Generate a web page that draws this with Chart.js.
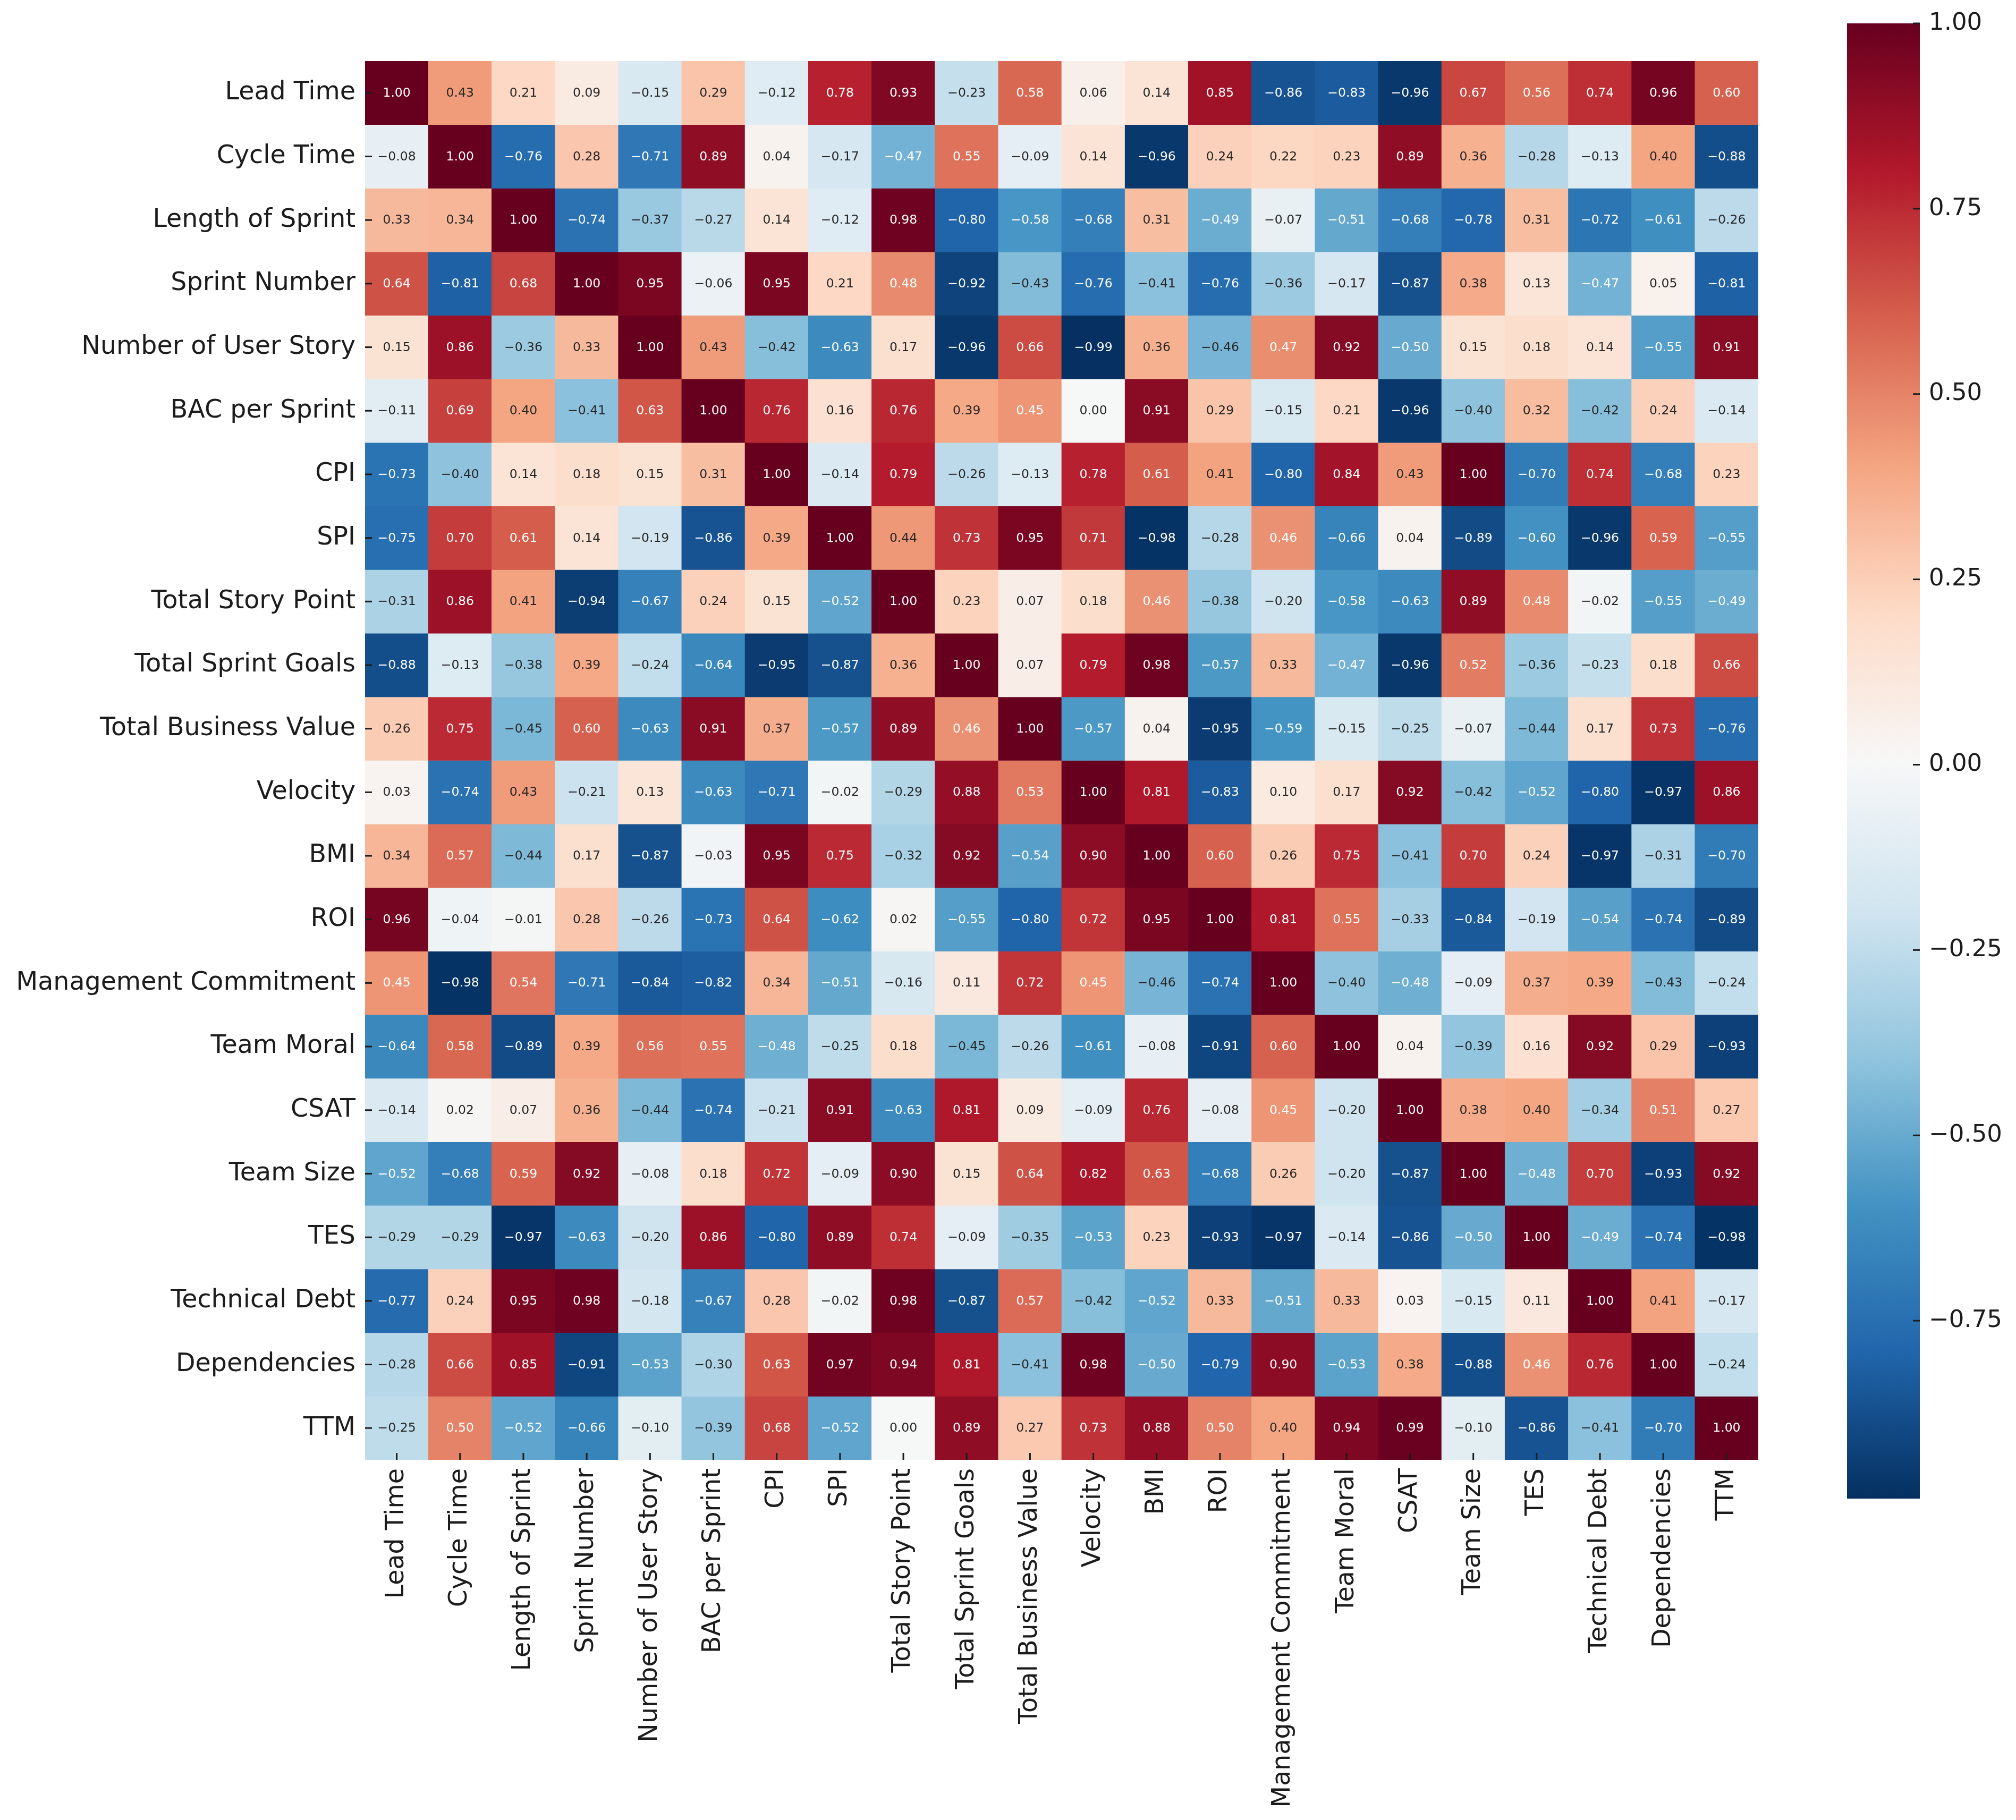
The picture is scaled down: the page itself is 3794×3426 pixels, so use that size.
<!DOCTYPE html>
<html>
<head>
<meta charset="utf-8">
<script src="https://cdn.jsdelivr.net/npm/chart.js@4.4.1/dist/chart.umd.min.js"></script>
<style>
  html, body { margin: 0; padding: 0; background: #ffffff; }
  #wrap { position: relative; width: 3794px; height: 3426px; background: #ffffff; }
  #mainBox { position: absolute; left: 0; top: 0; width: 3794px; height: 3426px; }
  #cbarBox { position: absolute; left: 3476px; top: 0; width: 318px; height: 3426px; }
</style>
</head>
<body>
<div id="wrap">
  <div id="mainBox"><canvas id="main"></canvas></div>
  <div id="cbarBox"><canvas id="cbar"></canvas></div>
</div>
<script>
// ---------- data ----------
const labels = ["Lead Time", "Cycle Time", "Length of Sprint", "Sprint Number", "Number of User Story",
  "BAC per Sprint", "CPI", "SPI", "Total Story Point", "Total Sprint Goals", "Total Business Value",
  "Velocity", "BMI", "ROI", "Management Commitment", "Team Moral", "CSAT", "Team Size", "TES",
  "Technical Debt", "Dependencies", "TTM"];

const leadTime            = [1.00, 0.43, 0.21, 0.09, -0.15, 0.29, -0.12, 0.78, 0.93, -0.23, 0.58, 0.06, 0.14, 0.85, -0.86, -0.83, -0.96, 0.67, 0.56, 0.74, 0.96, 0.60];
const cycleTime           = [-0.08, 1.00, -0.76, 0.28, -0.71, 0.89, 0.04, -0.17, -0.47, 0.55, -0.09, 0.14, -0.96, 0.24, 0.22, 0.23, 0.89, 0.36, -0.28, -0.13, 0.40, -0.88];
const lengthOfSprint      = [0.33, 0.34, 1.00, -0.74, -0.37, -0.27, 0.14, -0.12, 0.98, -0.80, -0.58, -0.68, 0.31, -0.49, -0.07, -0.51, -0.68, -0.78, 0.31, -0.72, -0.61, -0.26];
const sprintNumber        = [0.64, -0.81, 0.68, 1.00, 0.95, -0.06, 0.95, 0.21, 0.48, -0.92, -0.43, -0.76, -0.41, -0.76, -0.36, -0.17, -0.87, 0.38, 0.13, -0.47, 0.05, -0.81];
const numberOfUserStory   = [0.15, 0.86, -0.36, 0.33, 1.00, 0.43, -0.42, -0.63, 0.17, -0.96, 0.66, -0.99, 0.36, -0.46, 0.47, 0.92, -0.50, 0.15, 0.18, 0.14, -0.55, 0.91];
const bacPerSprint        = [-0.11, 0.69, 0.40, -0.41, 0.63, 1.00, 0.76, 0.16, 0.76, 0.39, 0.45, 0.00, 0.91, 0.29, -0.15, 0.21, -0.96, -0.40, 0.32, -0.42, 0.24, -0.14];
const cpi                 = [-0.73, -0.40, 0.14, 0.18, 0.15, 0.31, 1.00, -0.14, 0.79, -0.26, -0.13, 0.78, 0.61, 0.41, -0.80, 0.84, 0.43, 1.00, -0.70, 0.74, -0.68, 0.23];
const spi                 = [-0.75, 0.70, 0.61, 0.14, -0.19, -0.86, 0.39, 1.00, 0.44, 0.73, 0.95, 0.71, -0.98, -0.28, 0.46, -0.66, 0.04, -0.89, -0.60, -0.96, 0.59, -0.55];
const totalStoryPoint     = [-0.31, 0.86, 0.41, -0.94, -0.67, 0.24, 0.15, -0.52, 1.00, 0.23, 0.07, 0.18, 0.46, -0.38, -0.20, -0.58, -0.63, 0.89, 0.48, -0.02, -0.55, -0.49];
const totalSprintGoals    = [-0.88, -0.13, -0.38, 0.39, -0.24, -0.64, -0.95, -0.87, 0.36, 1.00, 0.07, 0.79, 0.98, -0.57, 0.33, -0.47, -0.96, 0.52, -0.36, -0.23, 0.18, 0.66];
const totalBusinessValue  = [0.26, 0.75, -0.45, 0.60, -0.63, 0.91, 0.37, -0.57, 0.89, 0.46, 1.00, -0.57, 0.04, -0.95, -0.59, -0.15, -0.25, -0.07, -0.44, 0.17, 0.73, -0.76];
const velocity            = [0.03, -0.74, 0.43, -0.21, 0.13, -0.63, -0.71, -0.02, -0.29, 0.88, 0.53, 1.00, 0.81, -0.83, 0.10, 0.17, 0.92, -0.42, -0.52, -0.80, -0.97, 0.86];
const bmi                 = [0.34, 0.57, -0.44, 0.17, -0.87, -0.03, 0.95, 0.75, -0.32, 0.92, -0.54, 0.90, 1.00, 0.60, 0.26, 0.75, -0.41, 0.70, 0.24, -0.97, -0.31, -0.70];
const roi                 = [0.96, -0.04, -0.01, 0.28, -0.26, -0.73, 0.64, -0.62, 0.02, -0.55, -0.80, 0.72, 0.95, 1.00, 0.81, 0.55, -0.33, -0.84, -0.19, -0.54, -0.74, -0.89];
const managementCommitment= [0.45, -0.98, 0.54, -0.71, -0.84, -0.82, 0.34, -0.51, -0.16, 0.11, 0.72, 0.45, -0.46, -0.74, 1.00, -0.40, -0.48, -0.09, 0.37, 0.39, -0.43, -0.24];
const teamMoral           = [-0.64, 0.58, -0.89, 0.39, 0.56, 0.55, -0.48, -0.25, 0.18, -0.45, -0.26, -0.61, -0.08, -0.91, 0.60, 1.00, 0.04, -0.39, 0.16, 0.92, 0.29, -0.93];
const csat                = [-0.14, 0.02, 0.07, 0.36, -0.44, -0.74, -0.21, 0.91, -0.63, 0.81, 0.09, -0.09, 0.76, -0.08, 0.45, -0.20, 1.00, 0.38, 0.40, -0.34, 0.51, 0.27];
const teamSize            = [-0.52, -0.68, 0.59, 0.92, -0.08, 0.18, 0.72, -0.09, 0.90, 0.15, 0.64, 0.82, 0.63, -0.68, 0.26, -0.20, -0.87, 1.00, -0.48, 0.70, -0.93, 0.92];
const tes                 = [-0.29, -0.29, -0.97, -0.63, -0.20, 0.86, -0.80, 0.89, 0.74, -0.09, -0.35, -0.53, 0.23, -0.93, -0.97, -0.14, -0.86, -0.50, 1.00, -0.49, -0.74, -0.98];
const technicalDebt       = [-0.77, 0.24, 0.95, 0.98, -0.18, -0.67, 0.28, -0.02, 0.98, -0.87, 0.57, -0.42, -0.52, 0.33, -0.51, 0.33, 0.03, -0.15, 0.11, 1.00, 0.41, -0.17];
const dependencies        = [-0.28, 0.66, 0.85, -0.91, -0.53, -0.30, 0.63, 0.97, 0.94, 0.81, -0.41, 0.98, -0.50, -0.79, 0.90, -0.53, 0.38, -0.88, 0.46, 0.76, 1.00, -0.24];
const ttm                 = [-0.25, 0.50, -0.52, -0.66, -0.10, -0.39, 0.68, -0.52, 0.00, 0.89, 0.27, 0.73, 0.88, 0.50, 0.40, 0.94, 0.99, -0.10, -0.86, -0.41, -0.70, 1.00];

const colorbarTicks = [1.00, 0.75, 0.50, 0.25, 0.00, -0.25, -0.50, -0.75];

// ---------- derived ----------
const corr = [leadTime, cycleTime, lengthOfSprint, sprintNumber, numberOfUserStory, bacPerSprint, cpi, spi,
  totalStoryPoint, totalSprintGoals, totalBusinessValue, velocity, bmi, roi, managementCommitment, teamMoral,
  csat, teamSize, tes, technicalDebt, dependencies, ttm];

const vmin = Math.min(...corr.flat());
const vmax = Math.max(...corr.flat());

// RdBu_r colormap anchor colours
const cmapStops = [
  [5, 48, 97], [33, 102, 172], [67, 147, 195], [146, 197, 222], [209, 229, 240],
  [247, 247, 247], [253, 219, 199], [244, 165, 130], [214, 96, 77], [178, 24, 43], [103, 0, 31]
];
function cmapRGB(v) {
  let t = (v - vmin) / (vmax - vmin);
  t = Math.max(0, Math.min(1, t));
  const p = t * 10;
  const i = Math.min(9, Math.floor(p));
  const f = p - i;
  const a = cmapStops[i], b = cmapStops[i + 1];
  return [a[0] + (b[0] - a[0]) * f, a[1] + (b[1] - a[1]) * f, a[2] + (b[2] - a[2]) * f];
}
function cmap(v) {
  const c = cmapRGB(v);
  return `rgb(${Math.round(c[0])},${Math.round(c[1])},${Math.round(c[2])})`;
}
function lin(c) { c /= 255; return c <= 0.03928 ? c / 12.92 : Math.pow((c + 0.055) / 1.055, 2.4); }
function textColor(v) {
  const c = cmapRGB(v);
  const lum = 0.2126 * lin(c[0]) + 0.7152 * lin(c[1]) + 0.0722 * lin(c[2]);
  return lum > 0.408 ? '#262626' : '#ffffff';
}
function fmt(v) { return (v < 0 ? '\u2212' : '') + Math.abs(v).toFixed(2); }

const FONT = '"DejaVu Sans", "Liberation Sans", sans-serif';
const LABEL_COLOR = '#1c1c1c';

const W = 3794, H = 3426;
const AREA_LEFT = 687, AREA_RIGHT = 3309, AREA_TOP = 115, AREA_BOTTOM = 2748;

const datasets = corr.map((rowVals, r) => ({
  label: labels[r],
  data: rowVals.map(() => [r, r + 1]),
  backgroundColor: rowVals.map(v => cmap(v)),
  borderWidth: 0,
  barPercentage: 1,
  categoryPercentage: 1,
  grouped: false
}));

const annotatePlugin = {
  id: 'annotate',
  afterDatasetsDraw(chart) {
    const ctx = chart.ctx;
    ctx.save();
    ctx.font = '23.5px ' + FONT;
    ctx.textAlign = 'center';
    ctx.textBaseline = 'middle';
    chart.data.datasets.forEach((ds, r) => {
      const meta = chart.getDatasetMeta(r);
      meta.data.forEach((bar, c) => {
        const p = bar.getProps(['x', 'y', 'base'], true);
        const v = corr[r][c];
        ctx.fillStyle = textColor(v);
        ctx.fillText(fmt(v), p.x, (p.y + p.base) / 2 + 1);
      });
    });
    // inward tick marks
    const xs = chart.scales.x, ys = chart.scales.y, a = chart.chartArea;
    ctx.strokeStyle = LABEL_COLOR;
    ctx.lineWidth = 3;
    labels.forEach((_, i) => {
      const px = xs.getPixelForValue(i);
      ctx.beginPath(); ctx.moveTo(px, a.bottom); ctx.lineTo(px, a.bottom - 13); ctx.stroke();
      const py = ys.getPixelForValue(i + 0.5);
      ctx.beginPath(); ctx.moveTo(a.left, py); ctx.lineTo(a.left + 13, py); ctx.stroke();
    });
    ctx.restore();
  }
};

new Chart(document.getElementById('main'), {
  type: 'bar',
  data: { labels: labels, datasets: datasets },
  options: {
    responsive: true,
    maintainAspectRatio: false,
    animation: false,
    events: [],
    layout: { padding: { top: AREA_TOP, right: W - AREA_RIGHT, left: 0, bottom: 0 } },
    plugins: { legend: { display: false }, tooltip: { enabled: false } },
    scales: {
      x: {
        type: 'category',
        offset: true,
        afterFit: s => { s.height = H - AREA_BOTTOM; },
        ticks: {
          autoSkip: false, minRotation: 90, maxRotation: 90, padding: 16,
          color: LABEL_COLOR, font: { family: FONT, size: 47.5 }
        },
        grid: { display: false, drawTicks: false },
        border: { display: false }
      },
      y: {
        type: 'linear',
        min: 0, max: labels.length, reverse: true,
        afterBuildTicks: s => { s.ticks = labels.map((_, i) => ({ value: i + 0.5 })); },
        afterFit: s => { s.width = AREA_LEFT; },
        ticks: {
          autoSkip: false, padding: 18,
          callback: (v, i) => labels[i],
          color: LABEL_COLOR, font: { family: FONT, size: 47.5 }
        },
        grid: { display: false, drawTicks: false },
        border: { display: false }
      }
    }
  },
  plugins: [annotatePlugin]
});

// ---------- colorbar ----------
const CB_TOP = 43, CB_BOTTOM = 2821, CB_WIDTH = 137, CB_CANVAS_W = 318;

const cbTickPlugin = {
  id: 'cbTicks',
  afterDatasetsDraw(chart) {
    const ctx = chart.ctx, ys = chart.scales.y, a = chart.chartArea;
    ctx.save();
    ctx.strokeStyle = LABEL_COLOR;
    ctx.lineWidth = 3;
    colorbarTicks.forEach(v => {
      const py = ys.getPixelForValue(v);
      ctx.beginPath(); ctx.moveTo(a.right - 13, py); ctx.lineTo(a.right, py); ctx.stroke();
    });
    ctx.restore();
  }
};

new Chart(document.getElementById('cbar'), {
  type: 'bar',
  data: {
    labels: [''],
    datasets: [{
      data: [[vmin, vmax]],
      backgroundColor: (c) => {
        const area = c.chart.chartArea;
        if (!area) return 'rgba(0,0,0,0)';
        const g = c.chart.ctx.createLinearGradient(0, area.bottom, 0, area.top);
        cmapStops.forEach((s, i) => g.addColorStop(i / 10, `rgb(${s[0]},${s[1]},${s[2]})`));
        return g;
      },
      borderWidth: 0,
      barPercentage: 1,
      categoryPercentage: 1
    }]
  },
  options: {
    responsive: true,
    maintainAspectRatio: false,
    animation: false,
    events: [],
    layout: { padding: { top: CB_TOP, bottom: H - CB_BOTTOM, left: 0, right: 0 } },
    plugins: { legend: { display: false }, tooltip: { enabled: false } },
    scales: {
      x: { display: false },
      y: {
        position: 'right',
        min: vmin, max: vmax,
        afterBuildTicks: s => { s.ticks = colorbarTicks.map(v => ({ value: v })); },
        afterFit: s => { s.width = CB_CANVAS_W - CB_WIDTH; },
        ticks: {
          padding: 17,
          callback: (v) => fmt(v),
          color: LABEL_COLOR, font: { family: FONT, size: 45 }
        },
        grid: { display: false, drawTicks: false },
        border: { display: false }
      }
    }
  },
  plugins: [cbTickPlugin]
});
</script>
</body>
</html>
